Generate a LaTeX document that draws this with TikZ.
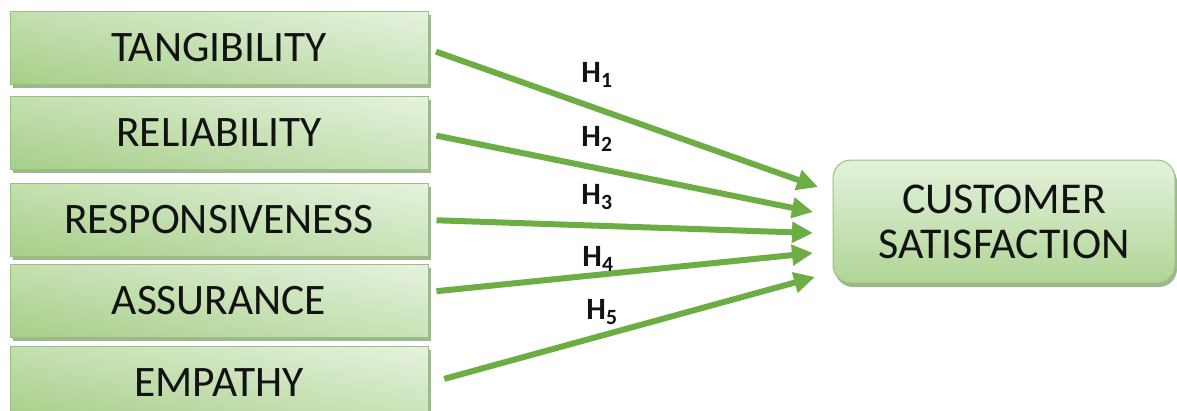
\documentclass[tikz,border=0pt]{standalone}
\usepackage{fontspec}
\setmainfont{Carlito}
\usetikzlibrary{arrows.meta,shadows,shadings}
\definecolor{boxLL}{HTML}{A6CE89}
\definecolor{boxUL}{HTML}{C3DFAF}
\definecolor{boxLR}{HTML}{C9E2B7}
\definecolor{boxUR}{HTML}{E6F2DE}
\definecolor{boxlight}{HTML}{E4F1DB}
\definecolor{boxdark}{HTML}{B0D596}
\definecolor{boxedge}{HTML}{98C27C}
\definecolor{shade}{HTML}{86A572}
\definecolor{arrowgreen}{HTML}{6CAD44}
\definecolor{ink}{HTML}{121212}
\tikzset{
  factor/.style={rectangle, minimum width=418pt, minimum height=73pt,
    draw=boxedge, line width=1pt,
    lower left=boxLL, upper left=boxUL, lower right=boxLR, upper right=boxUR,
    drop shadow={shadow xshift=3pt, shadow yshift=-3pt, fill=shade, opacity=0.8},
    text=ink, font=\fontsize{43.5}{45}\selectfont, inner sep=0pt},
  outcome/.style={rectangle, rounded corners=18pt, minimum width=342pt, minimum height=123pt,
    draw=boxedge, line width=1pt,
    top color=boxlight, bottom color=boxdark,
    drop shadow={shadow xshift=2pt, shadow yshift=-4pt, fill=shade, opacity=0.8},
    text=ink, font=\fontsize{44}{45}\selectfont, align=center, inner sep=0pt},
  link/.style={draw=arrowgreen, line width=6pt, shorten <=8pt,
    -{Triangle[length=21pt, width=20pt]}},
  hyp/.style={font=\bfseries\fontsize{31}{32}\selectfont, text=ink, inner sep=0pt}
}
\begin{document}
\begin{tikzpicture}[x=1pt, y=-1pt]
\useasboundingbox (0,0) rectangle (1177,410);

% independent factors
\node[factor] (t1) at (219,48)  {TANGIBILITY};
\node[factor] (t2) at (219,133) {RELIABILITY};
\node[factor] (t3) at (219,220) {RESPONSIVENESS};
\node[factor] (t4) at (219,301) {ASSURANCE};
\node[factor] (t5) at (219,383) {EMPATHY};

% dependent variable
\node[outcome] (cs) at (1004,221.5) {CUSTOMER\\SATISFACTION};

% arrow tips just left of the outcome box
\coordinate (e1) at (818,187);
\coordinate (e2) at (813,212);
\coordinate (e3) at (813,233);
\coordinate (e4) at (813,253);
\coordinate (e5) at (815,277);

\draw[link] ([yshift=-1pt]t1.east) -- (e1);
\draw[link] ([yshift=-1pt]t2.east) -- (e2);
\draw[link] ([yshift=0pt]t3.east) -- (e3);
\draw[link] ([yshift=9pt]t4.east) -- (e4);
\draw[link] ([yshift=2pt,xshift=8pt]t5.east) -- (e5);

% hypothesis labels
\node[hyp] (h1) at (597,75)  {H\textsubscript{1}};
\node[hyp] (h2) at (597,139) {H\textsubscript{2}};
\node[hyp] (h3) at (597,197) {H\textsubscript{3}};
\node[hyp] (h4) at (598,259) {H\textsubscript{4}};
\node[hyp] (h5) at (602,312) {H\textsubscript{5}};
\end{tikzpicture}
\end{document}
